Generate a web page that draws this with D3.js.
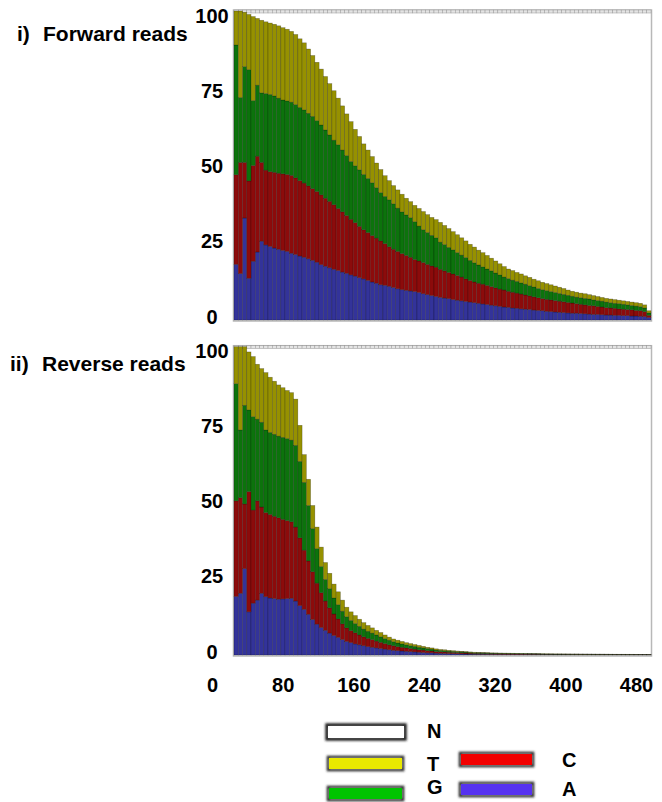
<!DOCTYPE html>
<html>
<head>
<meta charset="utf-8">
<script src="https://cdn.jsdelivr.net/npm/d3@7"></script>
<style>
  body { margin: 0; background: #fff; }
  text { font-family: "Liberation Sans", Arial, Helvetica, sans-serif; font-weight: bold; fill: #000; }
</style>
</head>
<body>
<svg id="chart" width="662" height="802"></svg>
<script>
// Read positions, binned in steps of 5 bases
const positions = d3.range(0, 490, 5);
const baseKeys = ["A", "C", "G", "T"];

// Forward reads: percentage of reads with each base at each position
const fwdA = [18,15,33,13.5,19,22,25.5,24.3,23.8,23.3,22.9,22.5,22.2,21.6,21.2,20.7,20.3,19.8,19.3,18.7,17.9,17.4,16.9,16.4,16,15.5,15.1,14.6,14.2,13.7,13.3,12.8,12.3,11.9,11.4,11.2,10.9,10.5,10.1,9.8,9.6,9.4,9.2,8.9,8.5,8.2,7.9,7.6,
  7.3,7.1,6.9,6.6,6.4,6.2,6.0,5.8,5.6,5.4,5.2,5.0,4.8,4.6,4.4,4.2,4.1,3.9,3.8,3.6,3.5,3.4,3.2,3.1,3.0,2.8,2.7,2.6,2.5,2.4,2.3,2.2,2.2,2.1,2.0,1.9,1.8,1.8,1.7,1.6,1.6,1.5,1.5,1.4,1.4,1.3,1.3,1.2,1.1,0.8];
const fwdC = [29,36,18,31.5,31,31,25.5,24.2,24.2,24.5,24.6,24.8,24.9,25.2,24.8,24.4,24,23.6,23.2,22.9,22.6,22,21.5,20.9,20.1,19.5,18.7,18,17.3,16.6,15.9,15.5,15,14.6,14.2,13.5,12.8,12.4,12.1,11.7,11.3,10.9,10.4,10.2,10.1,9.8,9.6,9.5,
  9.1,8.8,8.5,8.3,8.0,7.7,7.3,7.0,6.7,6.5,6.4,6.2,6.0,5.8,5.6,5.5,5.2,5.1,4.9,4.8,4.6,4.4,4.3,4.1,3.9,3.9,3.8,3.7,3.6,3.5,3.4,3.3,3.1,3.0,2.9,2.8,2.8,2.6,2.5,2.4,2.3,2.3,2.1,2.1,2.0,2.0,1.8,1.8,1.6,0.7];
const fwdG = [42,21,31,36,21,23,22.5,24.8,25,24.7,24.3,23.9,23.8,23.7,23.7,23.7,23.7,23.5,23.4,22.9,22.6,22.1,21.5,20.9,20.6,20,19.4,18.7,18.4,18.3,17.9,17.5,17.1,16.3,15.6,15.3,15.2,14.7,14,13.5,13.1,12.8,12.2,11.3,10.6,10.3,9.9,9.5,
  8.8,8.5,8.1,7.8,7.4,7.1,6.9,6.5,6.2,5.9,5.6,5.3,5.1,4.8,4.6,4.2,4.1,3.9,3.8,3.6,3.5,3.3,3.2,3.0,2.9,2.8,2.7,2.6,2.5,2.4,2.3,2.2,2.1,2.1,2.1,2.1,1.9,1.9,1.9,1.8,1.7,1.6,1.7,1.6,1.5,1.4,1.4,1.3,1.2,0.8];
const fwdT = [11,28,17.6,17.9,27.2,21.6,23.5,23.2,23.1,23.2,23.4,23.4,23.2,22.9,22.7,22.2,21.7,20.8,19.7,18.9,18.1,17.3,16.6,16,15.1,14.3,13.5,12.9,11.8,10.8,9.9,9.2,8.5,8,7.5,6.7,6.2,5.9,5.9,5.7,5.4,5.2,5.3,5.7,5.9,5.8,5.8,5.9,
  6.4,6.2,6.1,5.9,5.8,5.6,5.4,5.2,5.1,4.8,4.6,4.4,4.1,3.9,3.6,3.4,3.1,3.1,2.9,2.9,2.7,2.7,2.5,2.5,2.4,2.3,2.2,2.1,2.0,1.9,1.7,1.6,1.6,1.5,1.5,1.4,1.4,1.3,1.2,1.2,1.2,1.2,1.1,1.1,1.1,1.1,1.1,1.1,1.0,0.7];

// Reverse reads
const revA = [19,20,28,14,16.8,17.8,20,18.9,18.5,18.3,18.1,18.2,18.3,18.4,17.5,16,14.8,13.2,11.5,10,8.9,8,7.1,6.3,5.7,5,4.4,4,3.6,3.3,3,2.7,2.5,2.3,2.1,1.9,1.7,1.5,1.4,1.3,1.2,1.1,1.0,0.9,0.8,0.7,0.7,0.6,
  .55,.5,.45,.42,.4,.36,.33,.3,.27,.26,.24,.23,.21,.2,.2,.19,.18,.17,.17,.16,.15,.15,.14,.13,.13,.12,.12,.11,.11,.11,.11,.1,.1,.1,.1,.1,.09,.09,.09,.09,.08,.08,.08,.08,.07,.07,.07,.07,.07,.06];
const revC = [31,31,21,39,30.2,32.2,28,27.3,27.1,26.7,26.4,25.8,25.3,24.8,24,22,19.2,17.3,15.5,13.3,11.3,9.5,8.2,7,6,5.1,4.4,3.9,3.6,3.2,2.9,2.7,2.5,2.2,2,1.8,1.6,1.5,1.3,1.2,1.1,1.0,0.9,0.8,0.8,0.7,0.6,0.5,
  .5,.5,.45,.42,.38,.36,.33,.3,.27,.25,.24,.22,.21,.2,.2,.19,.18,.17,.16,.16,.15,.14,.14,.13,.12,.12,.12,.11,.11,.11,.1,.1,.1,.1,.1,.09,.09,.09,.09,.08,.08,.08,.07,.07,.07,.07,.07,.07,.06,.06];
const revG = [38,22,32,26.5,30.3,26.5,27.5,26.8,26.6,26.6,26.5,26.6,26.6,26.5,26.5,24.8,22,18,14,11.2,8.5,7,6.2,5.2,4.6,4.1,3.6,3.3,3,2.8,2.5,2.3,2.1,2,1.8,1.6,1.5,1.3,1.2,1.1,1.0,0.9,0.9,0.8,0.7,0.7,0.6,0.5,
  .45,.4,.35,.34,.32,.3,.27,.25,.22,.21,.2,.19,.18,.18,.16,.15,.15,.15,.14,.13,.13,.12,.11,.11,.11,.1,.1,.1,.1,.09,.09,.09,.09,.08,.08,.08,.08,.07,.07,.07,.07,.06,.06,.06,.06,.06,.06,.05,.05,.05];
const revT = [12,27,19,18.8,19.5,17.8,17.4,18.6,17.9,17.2,16.6,16.1,15.6,15.4,15,11.7,9,8.5,7.5,7,6.3,5.5,5,4.5,4.2,3.6,3.1,2.8,2.6,2.3,2.1,1.9,1.7,1.5,1.4,1.2,1.0,0.9,0.9,0.8,0.7,0.7,0.6,0.6,0.5,0.4,0.4,0.4,
  .3,.3,.25,.22,.2,.18,.17,.15,.14,.13,.12,.11,.1,.1,.09,.09,.09,.08,.08,.07,.07,.07,.07,.07,.06,.06,.05,.05,.05,.05,.05,.05,.05,.05,.04,.04,.04,.04,.04,.04,.04,.04,.04,.04,.04,.04,.03,.03,.03,.03];

// Axis tick labels
const yTicks = [0, 25, 50, 75, 100];
const xTicks = [0, 80, 160, 240, 320, 400, 480];

// Legend entries
const legendKeys = ["N", "T", "G", "C", "A"];

const barFill = { A: "#33339a", C: "#8c0b0b", G: "#0c730c", T: "#969100" };
const legendFill = { N: "#ffffff", T: "#e9e900", G: "#00c400", C: "#f20000", A: "#5632ef" };

const svg = d3.select("#chart");

const defs = svg.append("defs");
defs.append("filter").attr("id", "soft")
  .attr("x", "-20%").attr("y", "-40%").attr("width", "140%").attr("height", "180%")
  .append("feGaussianBlur").attr("stdDeviation", 0.9);

const panels = [
  { label: "i)", name: "Forward reads", lx: 17, nx: 43, ty: 41,
    top: 11, bottom: 320, labTop: 15.5, labBottom: 316,
    series: { A: fwdA, C: fwdC, G: fwdG, T: fwdT } },
  { label: "ii)", name: "Reverse reads", lx: 10, nx: 42, ty: 371,
    top: 346.7, bottom: 655, labTop: 350, labBottom: 651,
    series: { A: revA, C: revC, G: revG, T: revT } }
];

const x = d3.scaleBand().domain(positions).range([234, 651]).paddingInner(0).paddingOuter(0);

panels.forEach(p => {
  const y = d3.scaleLinear().domain([0, 100]).range([p.bottom, p.top]);
  const rows = positions.map((pos, i) => ({
    pos, A: p.series.A[i], C: p.series.C[i], G: p.series.G[i], T: p.series.T[i]
  }));
  const stacked = d3.stack().keys(baseKeys)(rows);

  const g = svg.append("g");

  // plot frame
  g.append("rect")
    .attr("x", 233.5).attr("y", p.top - 1)
    .attr("width", 418).attr("height", p.bottom - p.top + 2)
    .attr("fill", "#fff").attr("stroke", "#b8b8b8").attr("stroke-width", 1.5);

  // ticked strip along the top of the plot
  g.append("g").selectAll("rect").data(positions).join("rect")
    .attr("x", d => x(d)).attr("y", p.top - 1)
    .attr("width", x.bandwidth()).attr("height", 3)
    .attr("fill", "#e4e4e4").attr("stroke", "#9a9a9a").attr("stroke-width", 0.5);

  // stacked bars
  g.append("g").selectAll("g").data(stacked).join("g")
    .attr("fill", d => barFill[d.key])
    .selectAll("rect").data(d => d).join("rect")
    .attr("x", d => x(d.data.pos))
    .attr("y", d => y(d[1]))
    .attr("width", x.bandwidth())
    .attr("height", d => Math.max(0, y(d[0]) - y(d[1])))
    .attr("stroke", "rgba(0,0,0,0.35)")
    .attr("stroke-width", 0.6);

  // y tick labels
  const yLab = d3.scaleLinear().domain([0, 100]).range([p.labBottom, p.labTop]);
  const yAxis = d3.axisLeft(yLab).tickValues(yTicks).tickSize(0).tickPadding(0);
  const ya = svg.append("g").attr("transform", "translate(212,0)").call(yAxis);
  ya.select(".domain").remove();
  ya.selectAll("text")
    .attr("x", 0).attr("dy", "0.35em")
    .attr("text-anchor", "middle")
    .style("font-size", "20px").style("font-weight", "bold")
    .style("font-family", "'Liberation Sans', Arial, sans-serif").attr("fill", "#000");

  // panel title
  const t = svg.append("text").attr("y", p.ty).style("font-size", "21px");
  t.append("tspan").attr("x", p.lx).text(p.label);
  t.append("tspan").attr("x", p.nx).text(p.name);
});

// x tick labels
const xLab = d3.scaleLinear().domain([0, 480]).range([212, 636]);
const xa = svg.append("g").attr("transform", "translate(0,678)")
  .call(d3.axisBottom(xLab).tickValues(xTicks).tickSize(0).tickPadding(0).tickFormat(d3.format("d")));
xa.select(".domain").remove();
xa.selectAll("text")
  .attr("y", 0).attr("dy", "0.71em")
  .style("font-size", "20px").style("font-weight", "bold")
  .style("font-family", "'Liberation Sans', Arial, sans-serif").attr("fill", "#000");

// legend
const legendPos = {
  N: { x: 327, y: 725, w: 78, h: 14, tx: 427, ty: 738 },
  T: { x: 328, y: 757, w: 75, h: 13, tx: 427, ty: 771 },
  G: { x: 328, y: 787, w: 75, h: 13, tx: 427, ty: 794 },
  C: { x: 460, y: 753, w: 73, h: 13, tx: 562, ty: 767 },
  A: { x: 460, y: 783, w: 73, h: 13, tx: 562, ty: 796 }
};
const lg = svg.append("g");
const items = lg.selectAll("g").data(legendKeys).join("g");
items.append("rect")
  .attr("x", d => legendPos[d].x).attr("y", d => legendPos[d].y)
  .attr("width", d => legendPos[d].w).attr("height", d => legendPos[d].h)
  .attr("fill", "none")
  .attr("stroke", "#222").attr("stroke-width", d => d === "N" ? 3.5 : 2.5)
  .attr("filter", "url(#soft)");
items.append("rect")
  .attr("x", d => legendPos[d].x + 1).attr("y", d => legendPos[d].y + 1)
  .attr("width", d => legendPos[d].w - 2).attr("height", d => legendPos[d].h - 2)
  .attr("fill", d => legendFill[d]);
items.append("text")
  .attr("x", d => legendPos[d].tx).attr("y", d => legendPos[d].ty)
  .style("font-size", "20px")
  .text(d => d);
</script>
</body>
</html>
